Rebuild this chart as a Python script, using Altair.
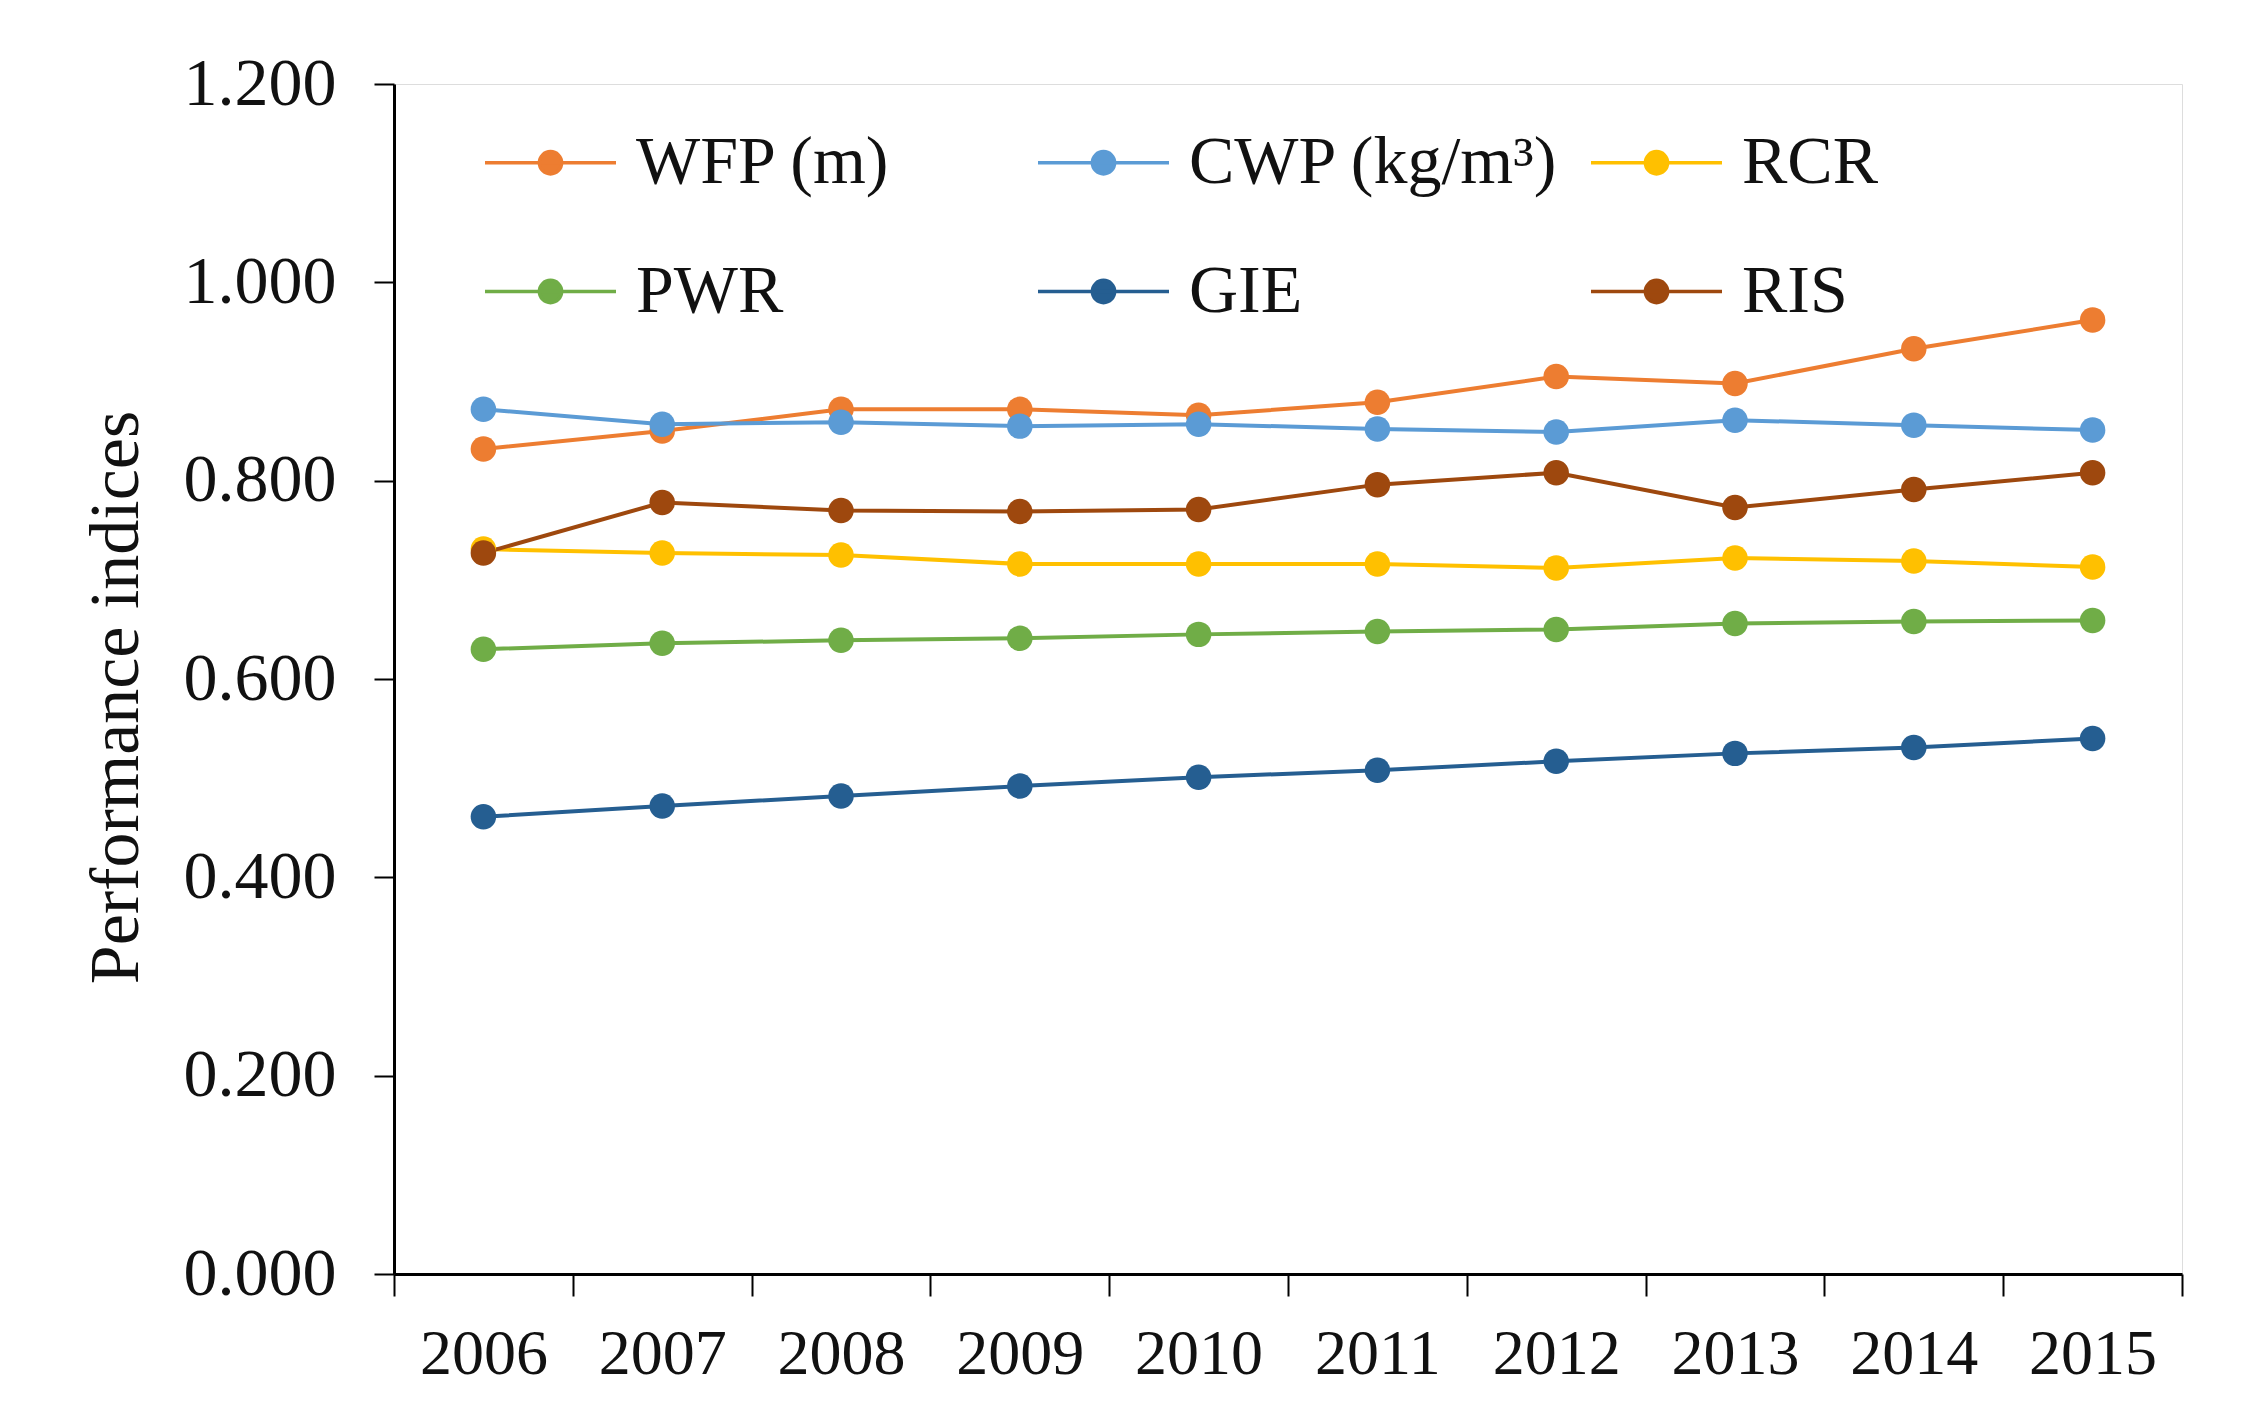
import altair as alt
import pandas as pd

years = ["2006", "2007", "2008", "2009", "2010", "2011", "2012", "2013", "2014", "2015"]
series_names = ["WFP (m)", "CWP (kg/m³)", "RCR", "PWR", "GIE", "RIS"]
series_colors = ["#ED7D31", "#5B9BD5", "#FFC000", "#70AD47", "#255E91", "#9E480E"]

wfp = [0.832, 0.850, 0.872, 0.872, 0.866, 0.879, 0.905, 0.898, 0.933, 0.962]
cwp = [0.872, 0.857, 0.859, 0.855, 0.857, 0.852, 0.849, 0.861, 0.856, 0.851]
rcr = [0.731, 0.727, 0.725, 0.716, 0.716, 0.716, 0.712, 0.722, 0.719, 0.713]
pwr = [0.630, 0.636, 0.639, 0.641, 0.645, 0.648, 0.650, 0.656, 0.658, 0.659]
gie = [0.461, 0.472, 0.482, 0.492, 0.501, 0.508, 0.517, 0.525, 0.531, 0.540]
ris = [0.727, 0.778, 0.770, 0.769, 0.771, 0.796, 0.808, 0.773, 0.791, 0.808]

y_ticks = [0.0, 0.2, 0.4, 0.6, 0.8, 1.0, 1.2]

values = [wfp, cwp, rcr, pwr, gie, ris]
rows = []
for name, vals in zip(series_names, values):
    for yr, v in zip(years, vals):
        rows.append({"Year": yr, "Series": name, "Value": v})
df = pd.DataFrame(rows)

FONT = "Liberation Serif"
legend_symbol = "M-1,0H1M0.17,0A0.17,0.17,0,1,1,-0.17,0A0.17,0.17,0,1,1,0.17,0Z"

chart = alt.Chart(df).mark_line(
    strokeWidth=4,
    point=alt.OverlayMarkDef(filled=True, size=650, opacity=1),
).encode(
    x=alt.X("Year:O", sort=years,
            scale=alt.Scale(type="band", paddingInner=0, paddingOuter=0),
            axis=alt.Axis(title=None, labelAngle=0, labelFont=FONT, labelFontSize=64,
                          labelColor="#111", tickBand="extent", tickSize=22,
                          tickWidth=2, tickColor="black", domainColor="black",
                          domainWidth=3, labelPadding=26)),
    y=alt.Y("Value:Q", scale=alt.Scale(domain=[0, 1.2], nice=False, zero=True),
            axis=alt.Axis(values=y_ticks, format=".3f", grid=False,
                          title="Performance indices", titleFont=FONT, titleFontSize=70,
                          titleFontWeight="normal", titleColor="#111",
                          titleX=-278, titleY=613, titleAngle=270,
                          titleAlign="center", titleBaseline="middle",
                          labelFont=FONT, labelFontSize=68, labelColor="#111",
                          tickSize=20, tickWidth=2, tickColor="black",
                          domainColor="black", domainWidth=3, labelPadding=38)),
    color=alt.Color("Series:N", sort=series_names,
                    scale=alt.Scale(domain=series_names, range=series_colors),
                    legend=alt.Legend(title=None, orient="none", legendX=89, legendY=11,
                                      direction="horizontal",
                                      columns=3, gridAlign="all", columnPadding=25,
                                      rowPadding=27, symbolType=legend_symbol,
                                      symbolSize=17161, symbolStrokeWidth=3.5,
                                      labelFont=FONT, labelFontSize=68,
                                      labelColor="#111", labelOffset=18,
                                      labelLimit=800)),
).properties(
    width=1788,
    height=1190,
    autosize=alt.AutoSizeParams(type="none"),
    padding={"left": 386, "top": 76, "right": 70, "bottom": 130},
).configure_view(
    stroke="#a6a6a6", strokeWidth=2
).configure(background="white")

chart.save("out.html", embed_options={"renderer": "svg", "actions": False})
